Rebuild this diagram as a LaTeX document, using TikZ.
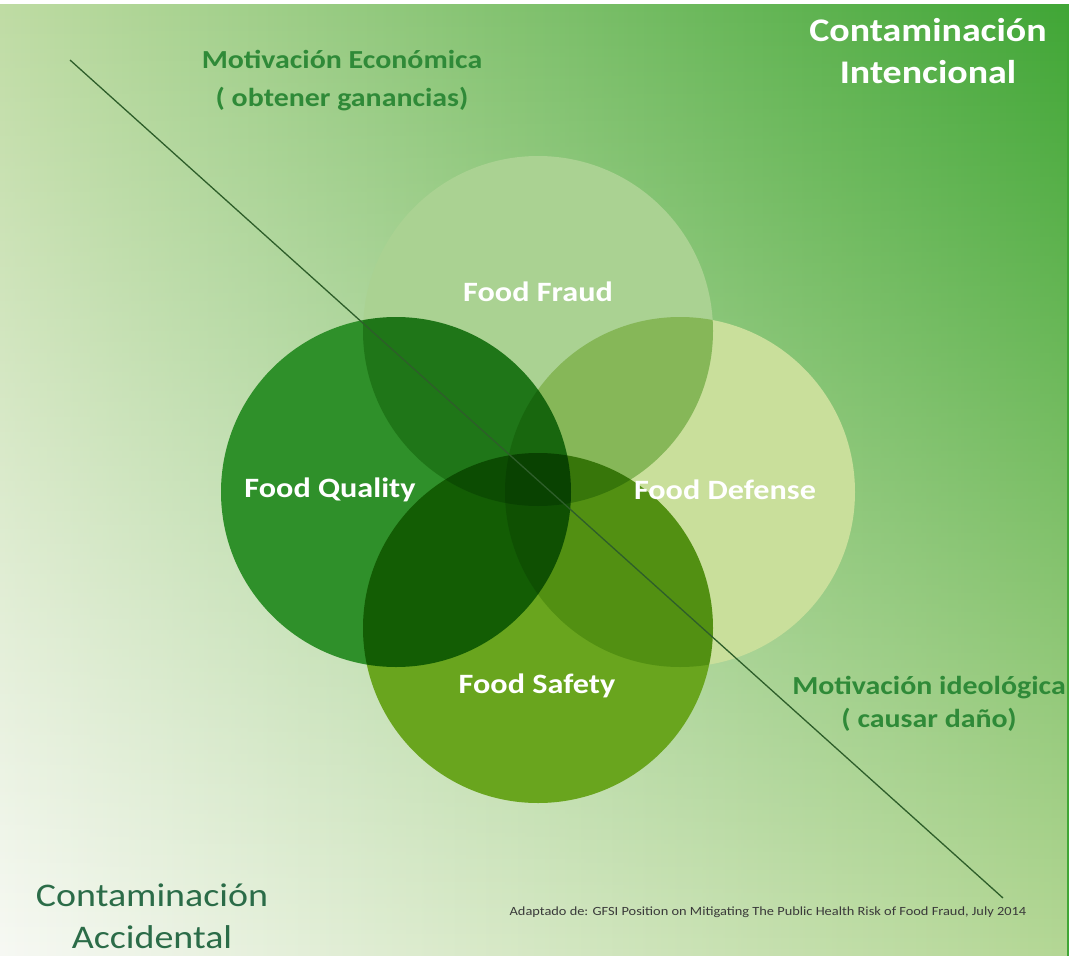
\documentclass[tikz,border=0pt]{standalone}
\usepackage{fontspec}
\setmainfont{Carlito}[FakeStretch=1.15]
\usetikzlibrary{positioning, fadings}
\definecolor{bgtl}{HTML}{BFDCA4}
\definecolor{bgtr}{HTML}{40A636}
\definecolor{bgbl}{HTML}{F7F9F4}
\definecolor{bgbr}{HTML}{B4D795}
\definecolor{cquality}{HTML}{2F902A}
\definecolor{cfraud}{HTML}{AAD292}
\definecolor{cdefense}{HTML}{C9DF9B}
\definecolor{csafety}{HTML}{69A51E}
\definecolor{cmotive}{HTML}{2F8A38}
\definecolor{caccident}{HTML}{2B6C48}
\definecolor{cline}{HTML}{2E5E2A}
\definecolor{cnote}{HTML}{3A3A3A}
\tikzset{
  every picture/.style={x=1pt, y=-1pt},
  ring/.style={circle, minimum size=350pt, inner sep=0pt, draw=none, fill=#1},
  inlabel/.style={text=white, font=\fontsize{28}{32}\selectfont\bfseries},
  motive/.style={text=cmotive, align=center, font=\fontsize{26}{38}\selectfont\bfseries},
  corner/.style={align=center, font=\fontsize{33}{42}\selectfont\bfseries},
  divider/.style={draw=cline, line width=1.3pt},
  source/.style={text=cnote, font=\fontsize{12.5}{14}\selectfont},
}
\begin{document}
\begin{tikzpicture}
  \useasboundingbox (0,0) rectangle (1069,956);
  % background
  \fill[white] (0,0) rectangle (1069,956);
  \shade[left color=bgtl, right color=bgtr] (0,4) rectangle (1069,956);
  \shade[left color=bgbl, right color=bgbr, path fading=north] (0,4) rectangle (1069,956);
  % the four circles, overlaps darkened by multiply
  \begin{scope}[transparency group]
    \begin{scope}[blend mode=multiply]
      \node[ring=cquality] (quality) at (396,492) {};
      \node[ring=cfraud] (fraud) at (538,331) {};
      \node[ring=cdefense] (defense) at (680,492) {};
      \node[ring=csafety] (safety) at (538,628) {};
    \end{scope}
  \end{scope}
  % the dividing line
  \coordinate (lineA) at (70,60);
  \coordinate (lineB) at (1003,898);
  \draw[divider] (lineA) -- (lineB);
  % circle labels
  \node[inlabel] (lfraud) at (538,292) {Food Fraud};
  \node[inlabel] (lquality) at (330,490) {Food Quality};
  \node[inlabel] (ldefense) at (725,490) {Food Defense};
  \node[inlabel] (lsafety) at (537,686) {Food Safety};
  % motivations and kinds of contamination
  \node[motive] (economic) at (342,81) {Motivación Económica\\( obtener ganancias)};
  \node[motive, font=\fontsize{26}{33}\selectfont\bfseries] (ideologic) at (929,704) {Motivación ideológica\\( causar daño)};
  \node[corner, text=white] (intent) at (928,51) {Contaminación\\Intencional};
  \node[corner, text=caccident, font=\fontsize{33}{42}\selectfont] (accident) at (152,916) {Contaminación\\Accidental};
  \node[source] (adapted) at (768,912) {Adaptado de: GFSI Position on Mitigating The Public Health Risk of Food Fraud, July 2014};
\end{tikzpicture}
\end{document}
